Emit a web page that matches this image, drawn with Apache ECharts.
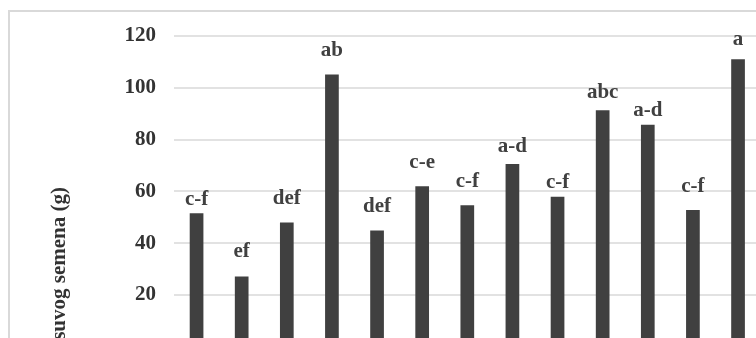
<!DOCTYPE html>
<html>
<head>
<meta charset="utf-8">
<script src="https://cdn.jsdelivr.net/npm/echarts@6/dist/echarts.min.js"></script>
<style>
  html, body { margin: 0; padding: 0; background: #fff; overflow: hidden; width: 756px; height: 338px; }
  #chart { width: 800px; height: 420px; }
</style>
</head>
<body>
<div id="chart"></div>
<script>
// Treatments (x categories) and mean dry seed mass, with significance letters
const categories = ['1', '2', '3', '4', '5', '6', '7', '8', '9', '10', '11', '12', '13'];
const values = [51.5, 27.1, 47.9, 105.0, 44.9, 61.9, 54.6, 70.5, 57.9, 91.2, 85.6, 52.8, 110.8];
const letters = ['c-f', 'ef', 'def', 'ab', 'def', 'c-e', 'c-f', 'a-d', 'c-f', 'abc', 'a-d', 'c-f', 'a'];
const yTicks = [0, 20, 40, 60, 80, 100, 120];
const yTitle = 'Prinos suvog semena (g)';

const serif = '"Liberation Serif", "Times New Roman", serif';
const fontSize = 21;
// hand-placed letter offsets above each bar (px)
const labelGap = [3, 14, 14, 13.5, 13.5, 13.5, 13.5, 7, 4, 7, 4, 13, 9];

const chart = echarts.init(document.getElementById('chart'), null, { renderer: 'canvas' });

chart.setOption({
  animation: false,
  backgroundColor: '#fff',
  grid: { left: 174, top: 35.5, width: 586.6, height: 311.4, containLabel: false },
  graphic: [
    {
      type: 'rect',
      shape: { x: 9, y: 11, width: 900, height: 600 },
      style: { fill: 'none', stroke: '#d9d9d9', lineWidth: 2 },
      silent: true
    },
    {
      type: 'text',
      x: 60, y: 187,
      rotation: Math.PI / 2,
      style: {
        text: yTitle,
        font: 'bold ' + fontSize + 'px ' + serif,
        fill: '#333',
        textAlign: 'right',
        textVerticalAlign: 'middle'
      }
    }
  ],
  xAxis: {
    type: 'category',
    data: categories,
    axisLine: { lineStyle: { color: '#d9d9d9' } },
    axisTick: { show: false },
    axisLabel: { show: false }
  },
  yAxis: {
    type: 'value',
    min: yTicks[0],
    max: yTicks[yTicks.length - 1],
    interval: 20,
    axisLine: { show: false },
    axisTick: { show: false },
    splitLine: { lineStyle: { color: '#d9d9d9', width: 1.5 } },
    axisLabel: {
      margin: 18,
      color: '#333',
      fontFamily: serif,
      fontWeight: 'bold',
      fontSize: fontSize,
      formatter: v => (v === 0 ? '' : String(v))
    }
  },
  series: [{
    type: 'bar',
    data: values.map((v, i) => ({ value: v, label: { distance: labelGap[i] } })),
    barWidth: 13.7,
    itemStyle: { color: '#404040' },
    label: {
      show: true,
      position: 'top',
      color: '#404040',
      fontFamily: serif,
      fontWeight: 'bold',
      fontSize: fontSize,
      formatter: p => letters[p.dataIndex]
    }
  }]
});
</script>
</body>
</html>
